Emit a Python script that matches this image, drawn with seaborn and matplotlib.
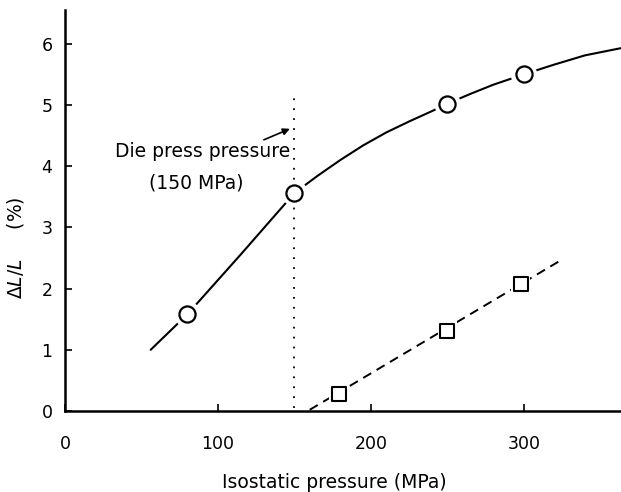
import matplotlib
matplotlib.use("Agg")
import matplotlib.pyplot as plt
import seaborn as sns
import pandas as pd

# circles: measured points
circle_x = [80, 150, 250, 300]
circle_y = [1.58, 3.56, 5.02, 5.50]

# hand-drawn curve through the circles
curve_x = [56, 80, 115, 150, 165, 180, 195, 210, 225, 240, 250, 265, 280, 300, 320, 340, 364]
curve_y = [1.00, 1.58, 2.56, 3.56, 3.84, 4.10, 4.34, 4.55, 4.73, 4.90, 5.02, 5.18, 5.33, 5.50, 5.66, 5.81, 5.93]

# squares and their dashed fit line
square_x = [179, 250, 298]
square_y = [0.28, 1.31, 2.07]
dash_x = [160, 326]
dash_y = [0.02, 2.49]

die_press = 150
die_top = 5.15

x_ticks = [0, 100, 200, 300]
y_ticks = [0, 1, 2, 3, 4, 5, 6]

sns.set_theme(style="white")
plt.rcParams["font.family"] = ["DejaVu Sans"]
plt.rcParams["mathtext.fontset"] = "dejavusans"
for key in ["text.color", "axes.labelcolor", "xtick.color", "ytick.color"]:
    plt.rcParams[key] = "black"

fig = plt.figure(figsize=(6.21, 4.92), dpi=100)
ax = fig.add_axes([0.1047, 0.1646, 0.8953, 0.815])

curve = pd.DataFrame({"x": curve_x, "y": curve_y})
circles = pd.DataFrame({"x": circle_x, "y": circle_y})
squares = pd.DataFrame({"x": square_x, "y": square_y})
dash = pd.DataFrame({"x": dash_x, "y": dash_y})

sns.lineplot(data=curve, x="x", y="y", color="black", lw=1.5, sort=True,
             estimator=None, ax=ax, zorder=2)
line = sns.lineplot(data=dash, x="x", y="y", color="black", lw=1.4, ax=ax,
                    estimator=None, zorder=2).lines[-1]
line.set_dashes((4.8, 3.2))

# white halos leave the small gaps around the markers
sns.scatterplot(data=circles, x="x", y="y", marker="o", s=360, color="white",
                edgecolor="none", ax=ax, zorder=3)
sns.scatterplot(data=squares, x="x", y="y", marker="s", s=190, color="white",
                edgecolor="none", ax=ax, zorder=3)

ax.vlines(die_press, 0.05, die_top, color="black", lw=1.3,
          linestyle=(0, (1, 4.5)), zorder=3.5)

sns.scatterplot(data=circles, x="x", y="y", marker="o", s=135, color="white",
                edgecolor="black", linewidth=1.6, ax=ax, zorder=4)
sns.scatterplot(data=squares, x="x", y="y", marker="s", s=115, color="white",
                edgecolor="black", linewidth=1.5, ax=ax, zorder=4)

ax.text(90, 4.15, "Die press pressure", fontsize=13.5, ha="center",
        va="baseline")
ax.text(86, 3.72, "(150 MPa)", fontsize=13.5, ha="center", va="center")
ax.annotate("", xy=(147, 4.61), xytext=(130, 4.43),
            arrowprops=dict(arrowstyle="-|>", color="black", lw=1.2,
                            mutation_scale=10, shrinkA=0, shrinkB=0))

ax.set_xlim(0, 363.5)
ax.set_ylim(0, 6.55)
ax.set_xticks(x_ticks)
ax.set_yticks(y_ticks)
ax.tick_params(axis="x", direction="in", length=5, width=1.2, pad=17,
               labelsize=12.5, bottom=True)
ax.tick_params(axis="y", direction="in", length=5, width=1.2, pad=9,
               labelsize=12.5, left=True)

for side in ["top", "right"]:
    ax.spines[side].set_visible(False)
for side in ["left", "bottom"]:
    ax.spines[side].set_color("black")
    ax.spines[side].set_linewidth(1.8)

ax.set_xlabel("Isostatic pressure (MPa)", fontsize=13.5)
ax.set_ylabel(r"$\Delta L/L$     (%)", fontsize=13.5)
ax.xaxis.set_label_coords(175.8 / 363.5, -0.155)
ax.yaxis.set_label_coords(-0.07, 2.67 / 6.55)

fig.savefig("out.png", dpi=100, facecolor="white")
